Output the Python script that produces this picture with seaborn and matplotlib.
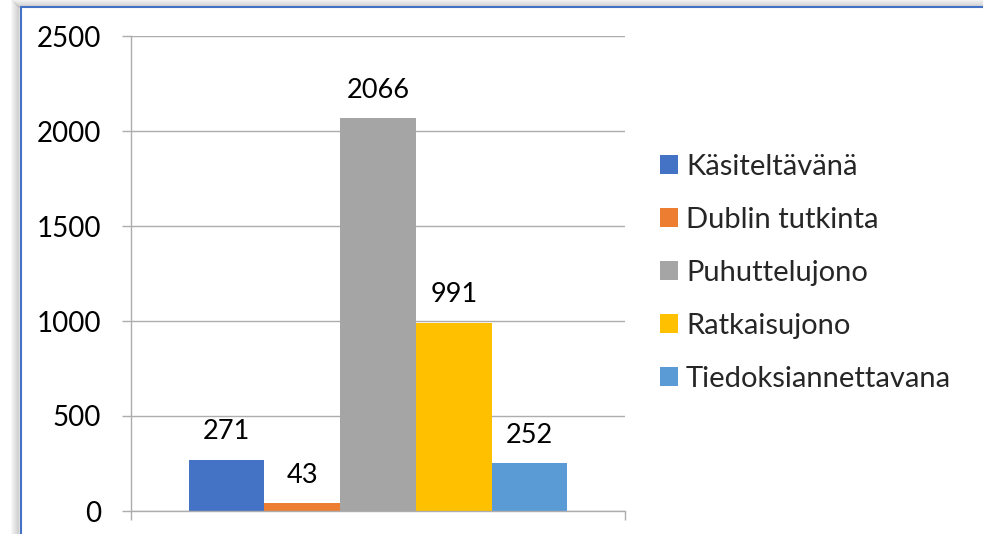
import matplotlib
matplotlib.use("Agg")
import matplotlib.pyplot as plt
import seaborn as sns
import pandas as pd
from matplotlib.patches import Patch
from matplotlib.lines import Line2D

# data
statuses = ["Käsiteltävänä", "Dublin tutkinta", "Puhuttelujono", "Ratkaisujono", "Tiedoksiannettavana"]
counts = [271, 43, 2066, 991, 252]
colors = ["#4472C4", "#ED7D31", "#A5A5A5", "#FFC000", "#5B9BD5"]
y_ticks = [0, 500, 1000, 1500, 2000, 2500]

sns.set_theme(style="white")
plt.rcParams['font.family'] = ['Lato', 'DejaVu Sans']

df = pd.DataFrame({"group": [""] * len(statuses), "status": statuses, "count": counts})

fig = plt.figure(figsize=(9.83, 5.34), dpi=100)
ax = fig.add_axes([131 / 983, 1 - 511 / 534, (625 - 131) / 983, (511 - 36) / 534])

sns.barplot(data=df, x="group", y="count", hue="status", hue_order=statuses,
            palette=colors, width=0.767, gap=0, saturation=1, legend=False,
            linewidth=0, edgecolor="none", ax=ax)

for cont in ax.containers:
    ax.bar_label(cont, padding=11, fontsize=19.5, color="black")

ax.set_ylim(0, 2500)
ax.set_yticks(y_ticks)
ax.set_xlim(-0.5, 0.5)
ax.set_xticks([-0.5, 0.5])
ax.set_xticklabels(["", ""])
ax.set_xlabel("")
ax.set_ylabel("")
ax.yaxis.grid(True, color="#ADADAD", linewidth=1)
ax.set_axisbelow(True)
for s in ["top", "right"]:
    ax.spines[s].set_visible(False)
for s in ["left", "bottom"]:
    ax.spines[s].set_color("#ADADAD")
    ax.spines[s].set_linewidth(1)
ax.tick_params(axis="y", length=6.5, width=1, color="#ADADAD", pad=15, labelsize=20, labelcolor="black", left=True)
ax.tick_params(axis="x", length=6.5, width=1, color="#ADADAD", bottom=True)

handles = [Patch(facecolor=c, edgecolor="none", label=s) for s, c in zip(statuses, colors)]
fig.legend(handles=handles, loc="upper left", bbox_to_anchor=(648 / 983, 1 - 142 / 534),
           frameon=False, fontsize=21, handlelength=0.62, handleheight=0.62,
           handletextpad=0.28, labelspacing=0.93, borderaxespad=0)

# chart frame with shadow, as in the screenshot
for i in range(8):
    a = 0.05 + 0.03 * i
    fig.add_artist(Line2D([(12 + i) / 983, 1], [1 - (0 + i) / 534] * 2, transform=fig.transFigure,
                          color="gray", alpha=a, linewidth=1.2))
    fig.add_artist(Line2D([(12 + i) / 983] * 2, [0, 1 - i / 534], transform=fig.transFigure,
                          color="gray", alpha=a, linewidth=1.2))
fig.add_artist(Line2D([20.5 / 983, 1], [1 - 6.5 / 534] * 2, transform=fig.transFigure,
                      color="#4472C4", linewidth=1.5))
fig.add_artist(Line2D([20.5 / 983] * 2, [0, 1 - 6.5 / 534], transform=fig.transFigure,
                      color="#4472C4", linewidth=1.5))

fig.savefig("out.png", dpi=100)
